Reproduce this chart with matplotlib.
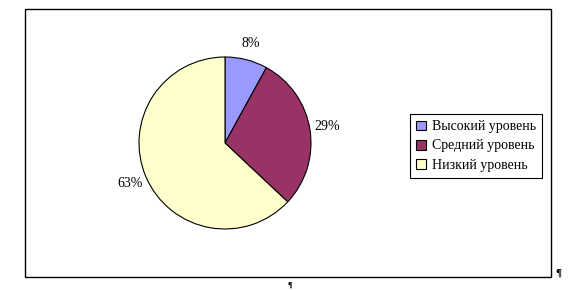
import matplotlib
matplotlib.use('Agg')
import matplotlib.pyplot as plt
from matplotlib.patches import Rectangle

font = {'family': 'Liberation Serif', 'size': 10}
matplotlib.rc('font', **font)

labels = ['Высокий уровень', 'Средний уровень', 'Низкий уровень']
shares = [8, 29, 63]
colors = ['#9999FF', '#993366', '#FFFFCC']

W, H = 572, 290
fig = plt.figure(figsize=(5.72, 2.90), dpi=100, facecolor='w')

# outer chart frame
fig.patches.append(Rectangle((25 / W, 1 - 277 / H), 526 / W, 268 / H,
                             transform=fig.transFigure, fill=False,
                             edgecolor='black', linewidth=1.0))

# pie axes: centre (225,143) px, radius 86 px, limits +-1.5
cx, cy, r = 225, 143, 86
half = r * 1.5
ax = fig.add_axes([(cx - half) / W, 1 - (cy + half) / H, 2 * half / W, 2 * half / H])
wedges, texts, autotexts = ax.pie(shares, colors=colors, startangle=90, counterclock=False,
                                  autopct='%1.0f%%', pctdistance=1.2,
                                  wedgeprops={'edgecolor': 'black', 'linewidth': 0.8})
for t in autotexts:
    t.set_fontsize(10)
ax.set_xlim(-1.5, 1.5)
ax.set_ylim(-1.5, 1.5)
ax.set_aspect('equal')
ax.axis('off')

leg = fig.legend(wedges, labels, loc='upper left', borderaxespad=0,
                 bbox_to_anchor=(410 / W, 1 - 114 / H), fancybox=False,
                 edgecolor='black', framealpha=1, handlelength=0.7, handleheight=0.7,
                 handletextpad=0.4, labelspacing=0.45, borderpad=0.45, fontsize=10)
leg.get_frame().set_linewidth(0.8)

fig.text(558 / W, 1 - 273 / H, '¶', fontsize=8, ha='center', va='center', weight='bold')
fig.text(290 / W, 1 - 286 / H, '¶', fontsize=6, ha='center', va='center', weight='bold')

plt.savefig('out.png', dpi=100)
